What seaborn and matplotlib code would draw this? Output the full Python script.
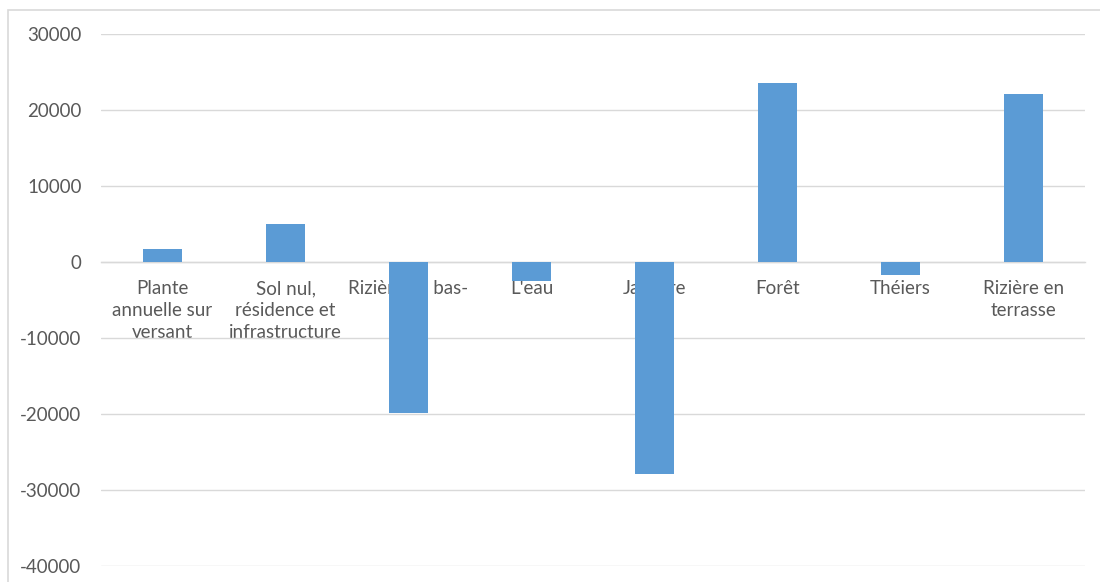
import matplotlib
matplotlib.use("Agg")
import matplotlib.pyplot as plt
import seaborn as sns
import pandas as pd
from matplotlib.patches import Rectangle

categories = [
    "Plante\nannuelle sur\nversant",
    "Sol nul,\nrésidence et\ninfrastructure",
    "Rizière au bas-\nfond",
    "L'eau",
    "Jachère",
    "Forêt",
    "Théiers",
    "Rizière en\nterrasse",
]
values = [1700, 5000, -19900, -2500, -27900, 23500, -1700, 22100]
yticks = [-40000, -30000, -20000, -10000, 0, 10000, 20000, 30000]

sns.set_theme(style="white")
plt.rcParams["font.family"] = ["Lato", "DejaVu Sans"]

fig = plt.figure(figsize=(11, 5.82), dpi=100)
ax = fig.add_axes([101 / 1100, 1 - 566 / 582, 984 / 1100, 532 / 582])

df = pd.DataFrame({"cat": categories, "val": values})
sns.barplot(data=df, x="cat", y="val", color="#5B9BD5", width=0.31,
            saturation=1, linewidth=0, edgecolor="none", ax=ax, zorder=3)

ax.set_ylim(-40000, 30000)
ax.set_yticks(yticks)
ax.set_yticklabels([str(v) for v in yticks])
ax.set_xlabel("")
ax.set_ylabel("")
ax.set_axisbelow(True)
ax.yaxis.grid(True, color="#D9D9D9", linewidth=1.0)
ax.xaxis.grid(False)
for s in ["top", "right", "left"]:
    ax.spines[s].set_visible(False)
ax.spines["bottom"].set_position(("data", 0))
ax.spines["bottom"].set_color("#D9D9D9")
ax.spines["bottom"].set_linewidth(1.0)
ax.tick_params(axis="both", length=0, colors="#595959", labelsize=13.5)
ax.tick_params(axis="y", pad=14)
ax.tick_params(axis="x", pad=13)
for t in ax.get_xticklabels():
    t.set_linespacing(1.36)
    t.set_verticalalignment("top")

fig.patches.append(Rectangle((8 / 1100, -0.05), 1.2, 1 - 10 / 582 + 0.05,
                             transform=fig.transFigure, fill=False,
                             edgecolor="#D9D9D9", linewidth=1.2))

fig.savefig("out.png", dpi=100, facecolor="white")
